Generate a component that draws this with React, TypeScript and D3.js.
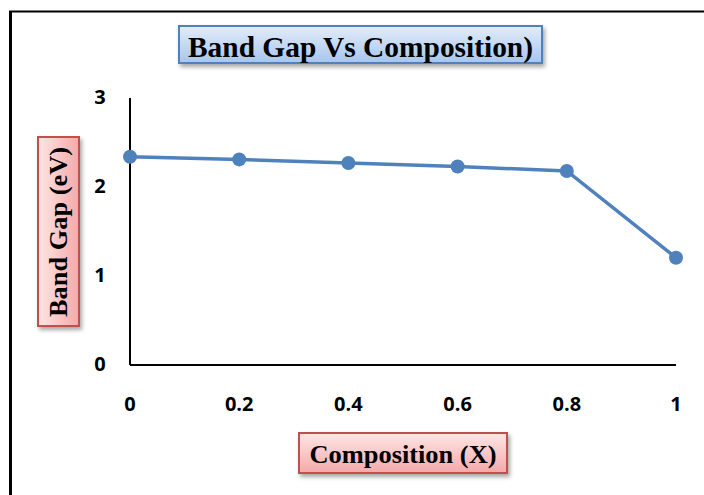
import React from "react";
import * as d3 from "d3";

const compositions = [0, 0.2, 0.4, 0.6, 0.8, 1];
const bandGap = [2.34, 2.31, 2.27, 2.23, 2.18, 1.205];
const xTicks = [0, 0.2, 0.4, 0.6, 0.8, 1];
const yTicks = [0, 1, 2, 3];
const titleText = "Band Gap Vs Composition)";
const xLabelText = "Composition (X)";
const yLabelText = "Band Gap (eV)";

const W = 704;
const H = 495;

export default function App() {
  const x = d3.scaleLinear().domain([0, 1]).range([130, 676]);
  const y = d3.scaleLinear().domain([0, 3]).range([365, 98]);
  const data = compositions.map((c, i) => ({ c, v: bandGap[i] }));
  const line = d3
    .line<{ c: number; v: number }>()
    .x((d) => x(d.c))
    .y((d) => y(d.v));

  const serif = "'Liberation Serif', 'Times New Roman', serif";
  const sans = "'Open Sans', 'Liberation Sans', sans-serif";

  return (
    <svg
      width={W}
      height={H}
      style={{ position: "absolute", left: 0, top: 0, background: "#fff" }}
    >
      <defs>
        <linearGradient id="blueG" x1="0" y1="0" x2="0" y2="1">
          <stop offset="0" stopColor="#e3edf9" />
          <stop offset="1" stopColor="#a7c5ee" />
        </linearGradient>
        <linearGradient id="redGV" x1="0" y1="0" x2="0" y2="1">
          <stop offset="0" stopColor="#fde6e6" />
          <stop offset="1" stopColor="#f5a9a9" />
        </linearGradient>
        <linearGradient id="redGH" x1="0" y1="0" x2="1" y2="0">
          <stop offset="0" stopColor="#fde6e6" />
          <stop offset="1" stopColor="#f5a9a9" />
        </linearGradient>
        <filter id="shadow" x="-10%" y="-20%" width="130%" height="160%">
          <feDropShadow dx="2" dy="3" stdDeviation="2" floodColor="#000" floodOpacity="0.35" />
        </filter>
      </defs>

      {/* outer frame */}
      <line x1={10.5} y1={11} x2={10.5} y2={H} stroke="#000" strokeWidth={3} />
      <line x1={9} y1={11.5} x2={W} y2={11.5} stroke="#000" strokeWidth={2} />

      {/* title */}
      <rect
        x={179}
        y={26}
        width={363}
        height={37}
        fill="url(#blueG)"
        stroke="#4f81bd"
        strokeWidth={2}
        filter="url(#shadow)"
      />
      <text
        x={360.5}
        y={57}
        textAnchor="middle"
        fontFamily={serif}
        fontWeight="bold"
        fontSize={29}
        textLength={345}
        lengthAdjust="spacingAndGlyphs"
        fill="#000"
      >
        {titleText}
      </text>

      {/* axes */}
      <line x1={x(0)} y1={y(3)} x2={x(0)} y2={y(0)} stroke="#000" strokeWidth={2} />
      <line x1={x(0)} y1={y(0)} x2={x(1)} y2={y(0)} stroke="#000" strokeWidth={2} />

      {yTicks.map((t) => (
        <text
          key={"y" + t}
          x={100}
          y={y(t) - 1}
          dy="0.36em"
          textAnchor="middle"
          fontFamily={sans}
          fontWeight="bold"
          fontSize={20}
          fill="#000"
        >
          {t}
        </text>
      ))}
      {xTicks.map((t) => (
        <text
          key={"x" + t}
          x={x(t)}
          y={404}
          dy="0.36em"
          textAnchor="middle"
          fontFamily={sans}
          fontWeight="bold"
          fontSize={20}
          fill="#000"
        >
          {String(t)}
        </text>
      ))}

      {/* series */}
      <path d={line(data) || ""} fill="none" stroke="#4f81bd" strokeWidth={3.5} />
      {data.map((d, i) => (
        <circle key={i} cx={x(d.c)} cy={y(d.v)} r={7} fill="#4f81bd" />
      ))}

      {/* y label */}
      <rect
        x={38}
        y={137}
        width={41}
        height={189}
        fill="url(#redGH)"
        stroke="#c0504d"
        strokeWidth={2}
        filter="url(#shadow)"
      />
      <text
        transform={`translate(67,232) rotate(-90)`}
        textAnchor="middle"
        fontFamily={serif}
        fontWeight="bold"
        fontSize={26}
        textLength={170}
        lengthAdjust="spacingAndGlyphs"
        fill="#000"
      >
        {yLabelText}
      </text>

      {/* x label */}
      <rect
        x={299}
        y={433}
        width={208}
        height={40}
        fill="url(#redGV)"
        stroke="#c0504d"
        strokeWidth={2}
        filter="url(#shadow)"
      />
      <text
        x={403}
        y={463}
        textAnchor="middle"
        fontFamily={serif}
        fontWeight="bold"
        fontSize={26}
        textLength={187}
        lengthAdjust="spacingAndGlyphs"
        fill="#000"
      >
        {xLabelText}
      </text>
    </svg>
  );
}
